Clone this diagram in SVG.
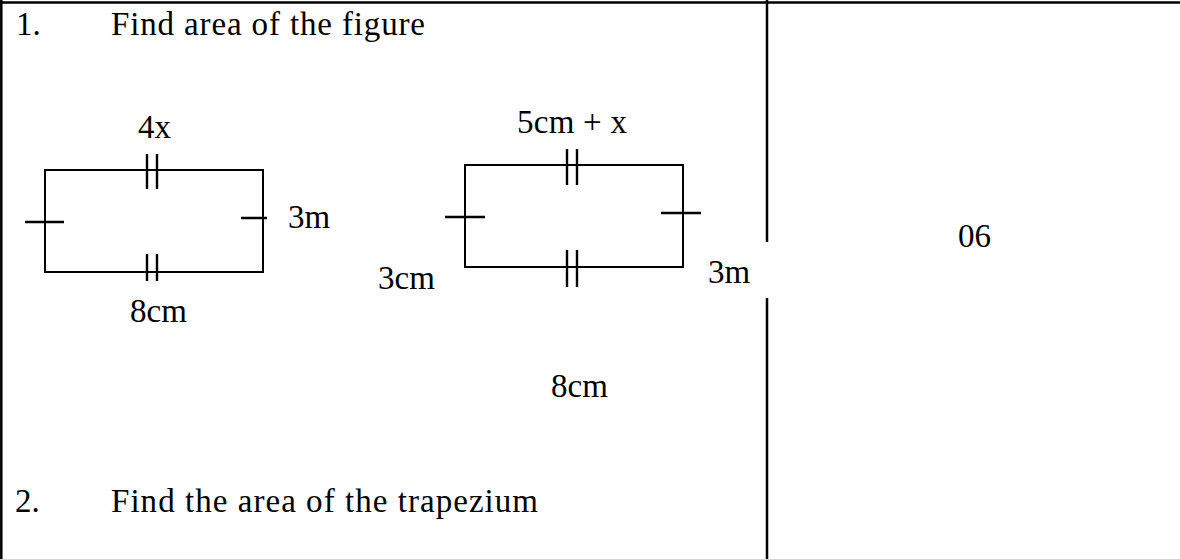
<svg xmlns="http://www.w3.org/2000/svg" width="1180" height="559" viewBox="0 0 1180 559">
<style>
text{font-family:"Liberation Serif","Times New Roman",serif;font-size:33px;fill:#000}
.border{stroke:#000;stroke-width:2.5;fill:none}
.rect{stroke:#000;stroke-width:2;fill:none}
.tick{stroke:#000;stroke-width:2.4;fill:none}
</style>
<rect x="0" y="0" width="1180" height="559" fill="#fff"/>
<g id="table">
<line class="border" x1="0" y1="2.5" x2="1180" y2="2.5"/>
<line class="border" x1="1.3" y1="0" x2="1.3" y2="559"/>
<line class="border" x1="767" y1="0" x2="767" y2="242"/>
<line class="border" x1="767" y1="298" x2="767" y2="559"/>
</g>
<g id="q1">
<text x="16" y="35">1.</text>
<text x="111" y="35" textLength="314" lengthAdjust="spacing">Find area of the figure</text>
</g>
<g id="figure-left">
<rect class="rect" x="45" y="170" width="218" height="102"/>
<path class="tick" d="M147 154V189M157 154V189M147 254V281M157 254V281M25 222H64M241 218H267"/>
<text x="138" y="138">4x</text>
<text x="288" y="228">3m</text>
<text x="130" y="322">8cm</text>
</g>
<g id="figure-right">
<rect class="rect" x="465" y="165" width="218" height="102"/>
<path class="tick" d="M567 149V185M577 149V185M567 250V287M577 250V287M445 217H485M661 213H701"/>
<text x="517" y="133" textLength="110" lengthAdjust="spacing">5cm + x</text>
<text x="378" y="289">3cm</text>
<text x="708" y="283">3m</text>
<text x="551" y="397">8cm</text>
</g>
<g id="marks">
<text x="958" y="247">06</text>
</g>
<g id="q2">
<text x="15" y="512">2.</text>
<text x="111" y="512" textLength="427" lengthAdjust="spacing">Find the area of the trapezium</text>
</g>
<g id="connectors"></g>
</svg>
